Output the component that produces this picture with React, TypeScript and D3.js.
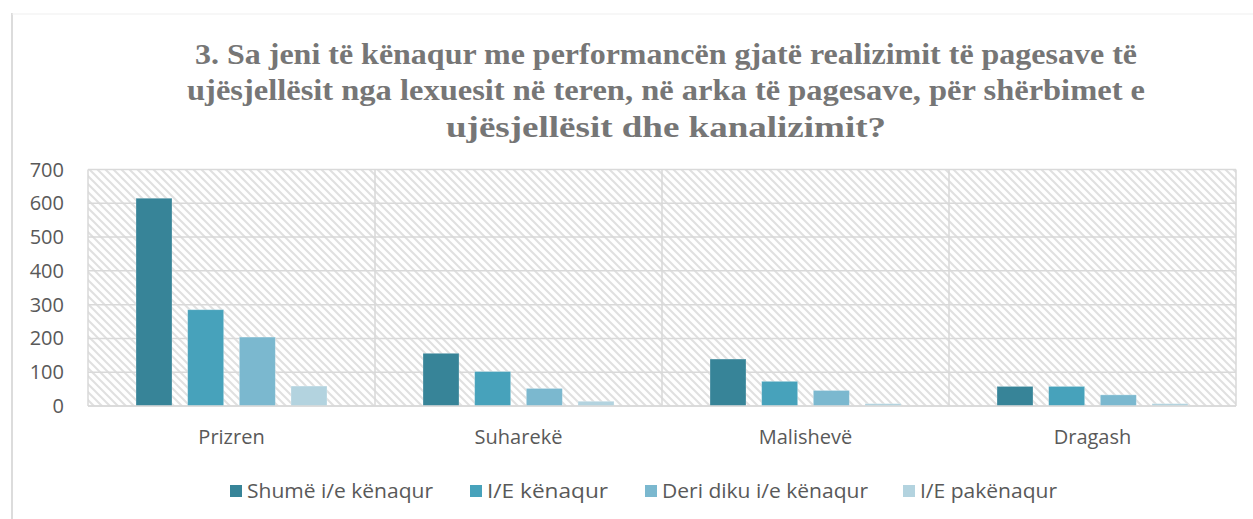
import React from "react";
import * as d3 from "d3";

const categories = ["Prizren", "Suharekë", "Malishevë", "Dragash"];
const seriesNames = ["Shumë i/e kënaqur", "I/E kënaqur", "Deri diku i/e kënaqur", "I/E pakënaqur"];
const shumeKenaqur = [615, 156, 139, 58];
const kenaqur = [285, 102, 73, 58];
const deriDiku = [204, 52, 46, 33];
const pakenaqur = [59, 14, 7, 7];
const yTicks = [0, 100, 200, 300, 400, 500, 600, 700];
const titleLines = [
  "3. Sa jeni të kënaqur me performancën gjatë realizimit të pagesave të",
  "ujësjellësit nga lexuesit në teren, në arka të pagesave, për shërbimet e",
  "ujësjellësit dhe kanalizimit?",
];

const seriesValues = [shumeKenaqur, kenaqur, deriDiku, pakenaqur];
const colors = ["#378498", "#47A2BB", "#7BB8CF", "#B3D3DF"];

export default function App() {
  const W = 1253, H = 519;
  const left = 88, right = 1236, top = 169.5, bottom = 406;
  const x0 = d3.scaleBand<string>().domain(categories).range([left, right]).padding(0);
  const groupPad = 48;
  const x1 = d3
    .scaleBand<string>()
    .domain(seriesNames)
    .range([groupPad, x0.bandwidth() - groupPad])
    .paddingInner(0.303)
    .paddingOuter(0);
  const y = d3.scaleLinear().domain([0, 700]).range([bottom, top]);

  const titleWidths = [942, 958, 440];
  const titleBaselines = [64, 100, 137];
  const legendX = [230, 470, 645, 903];
  const legendTextW = [186, 121, 206, 137];

  return (
    <svg
      width={W}
      height={H}
      style={{ position: "absolute", left: 0, top: 0, background: "#fff" }}
    >
      <defs>
        <pattern id="hatch" width="8" height="8" patternUnits="userSpaceOnUse">
          <rect width="8" height="8" fill="#ffffff" />
          <path d="M-2,-2 L10,10 M-2,6 L2,10 M6,-2 L10,2" stroke="#e0e0e0" strokeWidth="2" />
        </pattern>
      </defs>
      {/* outer frame */}
      <line x1={12} x2={12} y1={13} y2={H} stroke="#d0d0d0" strokeWidth={1.5} />
      <line x1={12} x2={W} y1={14} y2={14} stroke="#efefef" strokeWidth={1} />

      {/* title */}
      {titleLines.map((t, i) => (
        <text
          key={i}
          x={666}
          y={titleBaselines[i]}
          textAnchor="middle"
          fontFamily="Liberation Serif, DejaVu Serif, serif"
          fontWeight="bold"
          fontSize={29}
          fill="#767676"
          textLength={titleWidths[i]}
          lengthAdjust="spacingAndGlyphs"
        >
          {t}
        </text>
      ))}

      {/* plot background */}
      <rect x={left} y={top} width={right - left} height={bottom - top} fill="url(#hatch)" />
      {yTicks.map((t) => (
        <line key={t} x1={left} x2={right} y1={y(t)} y2={y(t)} stroke="#d9d9d9" strokeWidth={1.5} />
      ))}
      {categories.map((c) => (
        <line
          key={c}
          x1={x0(c)!}
          x2={x0(c)!}
          y1={top}
          y2={bottom}
          stroke="#d9d9d9"
          strokeWidth={1.5}
        />
      ))}
      <line x1={right} x2={right} y1={top} y2={bottom} stroke="#d9d9d9" strokeWidth={1.5} />

      {/* bars */}
      {categories.map((c, ci) => (
        <g key={c} transform={`translate(${x0(c)},0)`}>
          {seriesNames.map((s, si) => {
            const v = seriesValues[si][ci];
            return (
              <rect
                key={s}
                x={x1(s)!}
                y={y(v)}
                width={x1.bandwidth()}
                height={bottom - y(v)}
                fill={colors[si]}
                stroke="#ffffff"
                strokeOpacity={0.35}
                strokeWidth={0.8}
              />
            );
          })}
        </g>
      ))}
      <line x1={left} x2={right} y1={bottom} y2={bottom} stroke="#d9d9d9" strokeWidth={1.5} />

      {/* y axis labels */}
      {yTicks.map((t) => (
        <text
          key={t}
          x={64}
          y={y(t) + 7}
          textAnchor="end"
          fontFamily="Open Sans, sans-serif"
          fontSize={20}
          fill="#595959"
        >
          {t}
        </text>
      ))}

      {/* category labels */}
      {categories.map((c) => (
        <text
          key={c}
          x={x0(c)! + x0.bandwidth() / 2}
          y={444}
          textAnchor="middle"
          fontFamily="Open Sans, sans-serif"
          fontSize={20}
          fill="#595959"
        >
          {c}
        </text>
      ))}

      {/* legend */}
      {seriesNames.map((s, i) => (
        <g key={s}>
          <rect x={legendX[i]} y={485} width={12} height={12} fill={colors[i]} />
          <text
            x={legendX[i] + 17}
            y={498}
            fontFamily="Open Sans, sans-serif"
            fontSize={20}
            fill="#595959"
            textLength={legendTextW[i]}
            lengthAdjust="spacingAndGlyphs"
          >
            {s}
          </text>
        </g>
      ))}
    </svg>
  );
}
